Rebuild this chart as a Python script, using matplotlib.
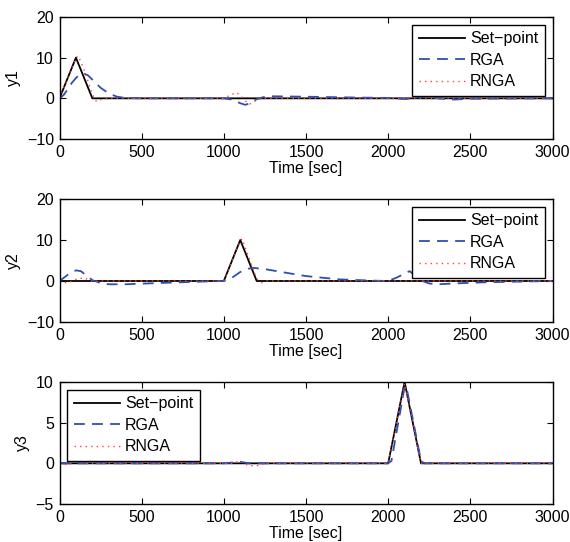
import matplotlib
matplotlib.use("Agg")
import matplotlib.pyplot as plt

plt.rcParams['font.family'] = ['Liberation Sans', 'DejaVu Sans']

# ---- data ----
sp1_t = [0, 100, 200, 3000]
sp1_v = [0, 10, 0, 0]
rga1_t = [0, 25, 50, 75, 100, 125, 150, 175, 200, 250, 300, 350, 400, 500, 1000, 1050, 1100, 1130, 1160, 1200,
          1250, 1300, 1500, 1800, 2000, 2050, 2100, 2150, 2200, 2250, 2300, 2400, 2500, 3000]
rga1_v = [0, 0.8, 2.2, 3.8, 5.0, 5.9, 6.1, 5.6, 4.6, 2.6, 1.2, 0.4, 0.1, 0, 0, -0.3, -1.2, -1.6, -1.2, -0.2,
          0.4, 0.5, 0.4, 0.2, 0.1, 0, -0.2, 0, 0.4, 0.3, 0, -0.3, -0.1, 0]
rnga1_t = [0, 50, 100, 115, 150, 200, 225, 250, 300, 1000, 1050, 1080, 1110, 1150, 1170, 1200, 1250,
           2050, 2080, 2110, 2150, 3000]
rnga1_v = [0, 5, 10, 10.4, 7, 1, -0.8, -0.3, 0, 0, 1.0, 1.4, 0.3, -1.4, -1.3, -0.3, 0,
           0, -0.3, 0.2, 0, 0]

sp2_t = [0, 1000, 1100, 1200, 3000]
sp2_v = [0, 0, 10, 0, 0]
rga2_t = [0, 50, 100, 130, 175, 200, 250, 300, 400, 600, 900, 1000, 1050, 1100, 1150, 1180, 1250, 1350, 1500,
          1700, 1900, 2000, 2050, 2100, 2130, 2170, 2200, 2250, 2300, 2400, 2600, 3000]
rga2_v = [0, 1.5, 2.6, 2.4, 1.0, 0.2, -0.5, -0.8, -0.8, -0.5, -0.1, 0, 0.8, 2.2, 3.0, 3.2, 2.9, 2.2, 1.2,
          0.4, 0.1, 0, 0.8, 1.8, 2.4, 1.2, 0.1, -0.6, -0.8, -0.6, -0.3, 0]
rnga2_t = [0, 50, 100, 150, 200, 250, 1000, 1050, 1100, 1110, 1150, 1200, 1230, 1260, 2000, 3000]
rnga2_v = [0, -0.5, 0.4, 0.8, -0.2, 0, 0, 5, 9.8, 10.3, 6, 0.5, -0.4, 0, 0, 0]

sp3_t = [0, 2000, 2100, 2200, 3000]
sp3_v = [0, 0, 10, 0, 0]
rga3_t = [0, 1000, 1100, 1150, 1200, 2000, 2020, 2100, 2110, 2200, 2220, 3000]
rga3_v = [0, 0, 0.2, 0, 0, 0, 0.3, 9.4, 9.5, 0.3, 0, 0]
rnga3_t = [0, 50, 100, 150, 1050, 1100, 1150, 1200, 1250, 2000, 2100, 2200, 3000]
rnga3_v = [0, -0.2, 0.2, 0, 0, 0.3, -0.3, -0.3, 0, 0, 9.8, 0, 0]

xticks = [0, 500, 1000, 1500, 2000, 2500, 3000]
yticks12 = [-10, 0, 10, 20]
yticks3 = [-5, 0, 5, 10]
labels = ['Set\u2212point', 'RGA', 'RNGA']

BLUE = '#2f4fb0'
RED = '#ff4040'
FS = 11.5

fig = plt.figure(figsize=(5.70, 5.42), dpi=100)
L, R = 59.5 / 570, 552.5 / 570
boxes = [(17, 139), (199, 322), (382, 504)]
panels = [
    (sp1_t, sp1_v, rga1_t, rga1_v, rnga1_t, rnga1_v, 'y1', yticks12, 'upper right'),
    (sp2_t, sp2_v, rga2_t, rga2_v, rnga2_t, rnga2_v, 'y2', yticks12, 'upper right'),
    (sp3_t, sp3_v, rga3_t, rga3_v, rnga3_t, rnga3_v, 'y3', yticks3, 'upper left'),
]
for (top, bot), (st, sv, gt, gv, nt, nv, yl, yt, loc) in zip(boxes, panels):
    ax = fig.add_axes([L, 1 - bot / 542, R - L, (bot - top) / 542])
    ax.plot(st, sv, color='black', lw=1.3, label=labels[0])
    ax.plot(gt, gv, color=BLUE, lw=1.3, ls=(0, (6, 4)), label=labels[1])
    ax.plot(nt, nv, color=RED, lw=1.0, ls=(0, (1, 3)), label=labels[2])
    ax.set_xlim(0, 3000)
    ax.set_ylim(yt[0], yt[-1])
    ax.set_xticks(xticks)
    ax.set_yticks(yt)
    ax.tick_params(direction='in', top=True, right=True, labelsize=FS, length=4, width=0.8, pad=4)
    for s in ax.spines.values():
        s.set_linewidth(1.0)
    ax.set_xlabel('Time [sec]', fontsize=FS, labelpad=1)
    ax.set_ylabel(yl, fontsize=FS, labelpad=4)
    leg = ax.legend(loc=loc, fontsize=FS, fancybox=False, framealpha=1, edgecolor='black',
                    handlelength=2.9, borderaxespad=0.5, labelspacing=0.4, borderpad=0.4, handletextpad=0.3)
    leg.get_frame().set_linewidth(1.0)

fig.savefig('out.png', dpi=100)
